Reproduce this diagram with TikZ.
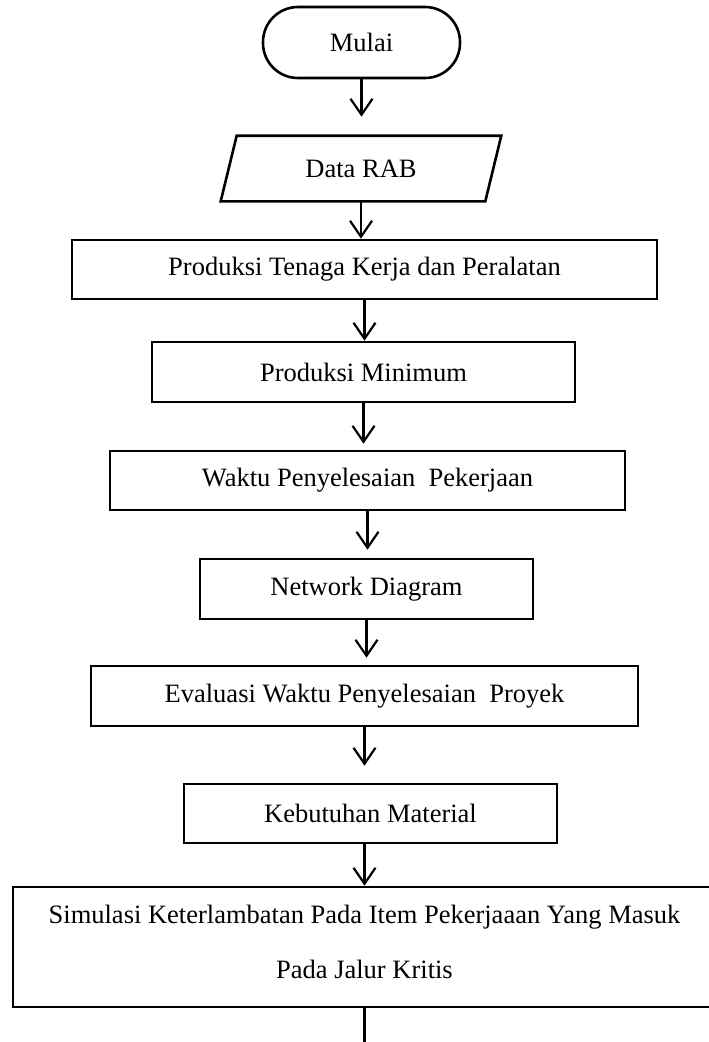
\documentclass[tikz,border=0pt]{standalone}
\usepackage{fontspec}
\setmainfont{Liberation Serif}
\usetikzlibrary{arrows.meta}

\begin{document}
\begin{tikzpicture}[x=1pt,y=-1pt,
  box/.style={draw,line width=2.6pt,font=\fontsize{26.5}{55}\selectfont,inner sep=0pt},
  flow/.style={line width=2.2pt,-{Straight Barb[length=16pt,width=22pt]}}]
\useasboundingbox (0,0) rectangle (709,1042);
\node[box,rounded corners=35pt,minimum width=197pt,minimum height=71pt] (mulai) at (361.5,42.5) {Mulai};
\node[box,draw=none,minimum width=262pt,minimum height=63pt] (rab) at (361,168.5) {Data RAB};
\draw[line width=2.6pt] ([xshift=8pt]rab.north west) -- ([xshift=8pt]rab.north east) -- ([xshift=-8pt]rab.south east) -- ([xshift=-8pt]rab.south west) -- cycle;
\node[box,minimum width=585pt,minimum height=59pt] (produksi) at (364.5,269.5) {Produksi Tenaga Kerja dan Peralatan};
\node[box,minimum width=423pt,minimum height=60pt] (minimum) at (363.5,372) {Produksi Minimum};
\node[box,minimum width=515pt,minimum height=59pt] (waktu) at (367.5,480.5) {Waktu Penyelesaian\ \ Pekerjaan};
\node[box,minimum width=333pt,minimum height=60pt] (network) at (366.5,589) {Network Diagram};
\node[box,minimum width=547pt,minimum height=60pt] (evaluasi) at (364.5,696) {Evaluasi Waktu Penyelesaian\ \ Proyek};
\node[box,minimum width=373pt,minimum height=59pt] (material) at (370.5,813.5) {Kebutuhan Material};
\node[box,align=center,minimum width=703pt,minimum height=120pt,text depth=10pt] (simulasi) at (364.5,947) {Simulasi Keterlambatan Pada Item Pekerjaaan Yang Masuk\\Pada Jalur Kritis};
\coordinate (lanjut) at (364.5,1042);
\draw[flow,shorten >=19pt] (mulai.south) -- (mulai.south |- rab.north);
\draw[flow] (rab.south) -- (rab.south |- produksi.north);
\draw[flow] (produksi.south) -- (produksi.south |- minimum.north);
\draw[flow,shorten >=6pt] (minimum.south) -- (minimum.south |- waktu.north);
\draw[flow,shorten >=8pt] (waktu.south) -- (waktu.south |- network.north);
\draw[flow,shorten >=7pt] (network.south) -- (network.south |- evaluasi.north);
\draw[flow,shorten >=17pt] (evaluasi.south) -- (evaluasi.south |- material.north);
\draw[flow] (material.south -| simulasi.north) -- (simulasi.north);
\draw[line width=2.2pt] (simulasi.south) -- (lanjut);
\end{tikzpicture}
\end{document}
